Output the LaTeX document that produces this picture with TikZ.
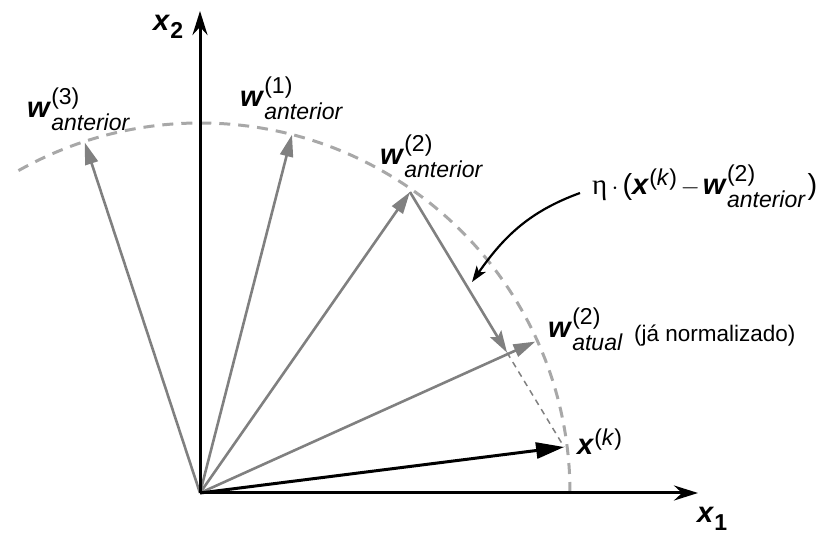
\documentclass[tikz,border=0pt]{standalone}
\usepackage{fontspec}
\usepackage{amsmath}
\setmainfont{Liberation Sans}
\newfontfamily\serifgr{Liberation Serif}
\usetikzlibrary{arrows.meta,calc}
\DeclareMathSizes{29}{29}{23}{18}
\definecolor{vgray}{RGB}{128,128,128}
\definecolor{cgray}{RGB}{168,168,168}
\newcommand{\wlab}[2]{$\textbf{\textit{w}}^{\text{(#1)}}_{\textit{#2}}$}
\begin{document}
\begin{tikzpicture}[x=1pt,y=1pt,
  axis/.style={line width=3pt,-{Stealth[length=24pt,width=15pt,inset=8pt]}},
  vec/.style={draw=vgray,line width=2.6pt,-{Triangle[length=22pt,width=13pt]}},
  xvec/.style={draw=black,line width=3pt,-{Triangle[length=28pt,width=16pt]}},
  dvec/.style={draw=vgray,line width=2.6pt,-{Stealth[length=22pt,width=13pt,inset=4pt]}},
  circ/.style={draw=cgray,line width=3pt,dash pattern=on 11pt off 8pt},
  thin/.style={draw=vgray,line width=1.5pt,dash pattern=on 6pt off 5pt},
  curv/.style={draw=black,line width=2.2pt,-{Stealth[length=16pt,width=11pt,inset=4pt]}},
  lab/.style={anchor=base west,inner sep=0pt,font=\fontsize{29}{33}\selectfont},
  note/.style={anchor=base west,inner sep=0pt,font=\fontsize{22.5}{26}\selectfont}]
\useasboundingbox (0,0) rectangle (835,535);
\coordinate (O) at (200,42);
\coordinate (X1) at (698,42);
\coordinate (X2) at (200,524);
\coordinate (w3) at ($(O)+(108.2:369)$);
\coordinate (w1) at ($(O)+(75.6:370)$);
\coordinate (w2a) at ($(O)+(55.1:367)$);
\coordinate (w2n) at ($(O)+(24.3:368)$);
\coordinate (xk) at ($(O)+(7.2:367)$);
\coordinate (d) at ($(w2a)!0.63!(xk)$);
\coordinate (cs) at (580,342);
\coordinate (ce) at (472,253);
% circle
\draw[circ] ($(O)+(0:370)$) arc[start angle=0,end angle=120.3,radius=370];
% thin dashed continuation
\draw[thin] (d) -- (xk);
% vectors
\draw[vec] (O) -- (w3);
\draw[vec] (O) -- (w1);
\draw[vec] (O) -- (w2a);
\draw[vec] (O) -- (w2n);
\draw[dvec] (w2a) -- (d);
\draw[xvec] (O) -- (xk);
% axes
\draw[axis] (O) -- (X1);
\draw[axis] (O) -- (X2);
% labels
\node[lab] (lx2) at (153,504) {$\textbf{\textit{x}}_{\textbf{2}}$};
\node[lab] (lx1) at (697,12) {$\textbf{\textit{x}}_{\textbf{1}}$};
\node[lab] (lw3) at (27,417) {\wlab{3}{anterior}};
\node[lab] (lw1) at (240,428) {\wlab{1}{anterior}};
\node[lab] (lw2a) at (380,370) {\wlab{2}{anterior}};
\node[lab] (lw2n) at (548,197) {\wlab{2}{atual}};
\node[note] (norm) at (634,193) {(já normalizado)};
\node[lab] (lxk) at (577,80) {$\textbf{\textit{x}}^{\text{(\textit{k})}}$};
\node[lab] (eta) at (592,340) {{\serifgr η}$\,\cdot\,$($\textbf{\textit{x}}^{\text{(\textit{k})}}$\hspace{3pt}$-$\hspace{3pt}$\textbf{\textit{w}}^{\text{(2)}}_{\textit{anterior}}$\hspace{2pt})};
\draw[curv] (cs) to[out=200,in=55] (ce);
\end{tikzpicture}
\end{document}
